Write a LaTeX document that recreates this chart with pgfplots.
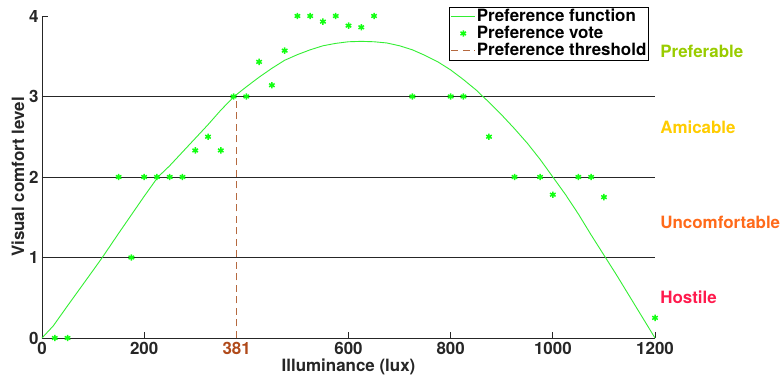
\documentclass[border=0pt]{standalone}
\usepackage{pgfplots}
\pgfplotsset{compat=1.18}
\usepackage{fontspec}
\setmainfont{TeX Gyre Heros}
\definecolor{vgreen}{HTML}{11FF11}
\definecolor{curvegreen}{HTML}{33EE33}
\definecolor{thr}{HTML}{B5693F}
\definecolor{thrtxt}{HTML}{B04A1A}
\definecolor{cPref}{HTML}{99CC00}
\definecolor{cAmic}{HTML}{FFCC00}
\definecolor{cUnc}{HTML}{FF6A1A}
\definecolor{cHost}{HTML}{FF1A4D}
\definecolor{axgray}{HTML}{262626}
\pgfplotsset{
  lineleg/.style={legend image code/.code={\draw[##1] (0bp,0bp) -- (24bp,0bp);}},
  markleg/.style={legend image code/.code={\draw[##1] plot coordinates {(12bp,0bp)};}},
}
\pgfplotstableread{
x y
0 0
22 0.15
50 0.40
75 0.62
100 0.84
118 1.00
150 1.30
175 1.53
200 1.76
227 2.00
250 2.14
275 2.31
300 2.48
325 2.65
350 2.83
376 3.00
400 3.12
425 3.24
450 3.35
475 3.45
500 3.52
525 3.58
550 3.63
575 3.66
600 3.68
625 3.685
650 3.68
675 3.665
700 3.63
725 3.58
750 3.51
775 3.43
800 3.33
825 3.21
850 3.08
863 3.00
875 2.93
900 2.77
925 2.60
950 2.42
975 2.22
1000 2.00
1025 1.78
1050 1.54
1075 1.28
1100 1.03
1125 0.78
1150 0.52
1175 0.26
1200 0
}\curvetable
\pgfplotstableread{
x y
25 0
50 0
175 1
150 2
200 2
225 2
250 2
275 2
300 2.33
325 2.5
350 2.33
375 3
400 3
425 3.43
450 3.14
475 3.57
500 4
525 4
550 3.93
575 4
600 3.88
625 3.86
650 4
725 3
800 3
825 3
875 2.5
925 2
975 2
1000 1.78
1050 2
1075 2
1100 1.75
1200 0.25
}\votetable
\begin{document}
\begin{tikzpicture}
\begin{axis}[
  scale only axis,
  width=613bp, height=322bp,
  xmin=0, xmax=1200, ymin=0, ymax=4,
  clip=false,
  axis x line=bottom, axis y line=left,
  axis line style={-, axgray, line width=0.8bp},
  xtick={0,200,381,600,800,1000,1200},
  xticklabels={0,200,\textcolor{thrtxt}{381},600,800,1000,1200},
  ytick={0,1,2,3,4},
  tick align=inside,
  major tick length=6bp,
  tick style={axgray, line width=0.8bp},
  /pgf/number format/assume math mode=true,
  tick label style={font=\fontsize{17}{20}\selectfont\bfseries, text=axgray},
  xticklabel style={yshift=-1bp},
  xlabel={Illuminance (lux)},
  ylabel={Visual comfort level},
  label style={font=\fontsize{17}{20}\selectfont\bfseries, text=axgray},
  xlabel style={yshift=3bp},
  ylabel style={yshift=-2bp},
  legend style={at={(0.9897,1.029)}, anchor=north east, draw=black, line width=0.6bp,
    fill=white, font=\fontsize{17}{20}\selectfont\bfseries,
    inner sep=1bp, row sep=0bp,
    nodes={text height=12.5bp, text depth=2.5bp, inner sep=1bp}},
  legend cell align=left,
]
\addplot[axgray, line width=0.8bp, forget plot] coordinates {(0,1) (1200,1)};
\addplot[axgray, line width=0.8bp, forget plot] coordinates {(0,2) (1200,2)};
\addplot[axgray, line width=0.8bp, forget plot] coordinates {(0,3) (1200,3)};
\addplot[curvegreen, line width=0.9bp, no marks, lineleg] table[x=x,y=y] {\curvetable};
\addlegendentry{Preference function}
\addplot[only marks, mark=asterisk, mark size=3.2bp, vgreen, line width=1.5bp, markleg] table[x=x,y=y] {\votetable};
\addlegendentry{Preference vote}
\addplot[thr, line width=1.1bp, dash pattern=on 7bp off 4.5bp, lineleg] coordinates {(381,0) (381,3)};
\addlegendentry{Preference threshold}
\coordinate (o) at (axis cs:0,0);
\node[anchor=west, inner sep=0, text=cPref, font=\fontsize{17}{20}\selectfont\bfseries] at (axis cs:1210,3.56) {Preferable};
\node[anchor=west, inner sep=0, text=cAmic, font=\fontsize{17}{20}\selectfont\bfseries] at (axis cs:1210,2.62) {Amicable};
\node[anchor=west, inner sep=0, text=cUnc, font=\fontsize{17}{20}\selectfont\bfseries] at (axis cs:1210,1.44) {Uncomfortable};
\node[anchor=west, inner sep=0, text=cHost, font=\fontsize{17}{20}\selectfont\bfseries] at (axis cs:1210,0.51) {Hostile};
\end{axis}
\pgfresetboundingbox
\path ([shift={(-42bp,-40bp)}]o) rectangle ([shift={(742bp,338bp)}]o);
\end{tikzpicture}
\end{document}
